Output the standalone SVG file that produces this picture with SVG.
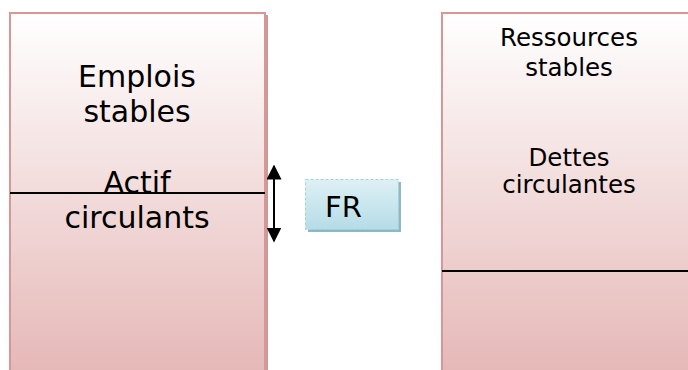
<svg xmlns="http://www.w3.org/2000/svg" width="688" height="370" viewBox="0 0 688 370">
<defs>
<linearGradient id="pink" x1="0" y1="0" x2="0" y2="1">
<stop offset="0" stop-color="#ffffff"/>
<stop offset="1" stop-color="#e5b8b7"/>
</linearGradient>
<linearGradient id="blue" x1="0" y1="0" x2="0" y2="1">
<stop offset="0" stop-color="#def0f5"/>
<stop offset="1" stop-color="#b5dce7"/>
</linearGradient>
<marker id="ah" viewBox="0 0 10 10" refX="9" refY="5" markerUnits="userSpaceOnUse" markerWidth="15" markerHeight="15" orient="auto-start-reverse">
<path d="M0,0 L10,5 L0,10 z" fill="#000"/>
</marker>
<style>
.box{fill:url(#pink);stroke:#d99694;stroke-width:2}
.shadow{fill:#c99a99}
.t{font-family:"DejaVu Sans",sans-serif;fill:#000;text-anchor:middle}
.sep{stroke:#000;stroke-width:2}
</style>
</defs>
<g id="emplois">
<rect class="shadow" x="264" y="15" width="4" height="356"/>
<rect class="box" x="10" y="13" width="255" height="360"/>
<text class="t" x="137" y="87" font-size="30">Emplois</text>
<text class="t" x="137" y="122" font-size="30">stables</text>
<text class="t" x="137" y="193" font-size="30">Actif</text>
<text class="t" x="137" y="228" font-size="30">circulants</text>
<line class="sep" x1="10" y1="193" x2="265" y2="193"/>
</g>
<g id="ressources">
<rect class="box" x="442" y="13" width="260" height="360"/>
<text class="t" x="569" y="46" font-size="24.5">Ressources</text>
<text class="t" x="569" y="76" font-size="24.5">stables</text>
<text class="t" x="569" y="166" font-size="24.5">Dettes</text>
<text class="t" x="569" y="193" font-size="24.5">circulantes</text>
<line class="sep" x1="442" y1="271" x2="688" y2="271"/>
</g>
<g id="fr">
<rect x="308" y="182" width="93" height="50" fill="#93b6c1"/>
<rect x="305.5" y="179.5" width="93" height="50" fill="url(#blue)" stroke="#9fd3e0" stroke-width="1" stroke-dasharray="3,2"/>
<text x="325" y="217" font-family="DejaVu Sans, sans-serif" font-size="29" fill="#000">FR</text>
</g>
<g id="connectors">
<line x1="274" y1="166" x2="274" y2="241" stroke="#000" stroke-width="2" marker-start="url(#ah)" marker-end="url(#ah)"/>
</g>
</svg>
